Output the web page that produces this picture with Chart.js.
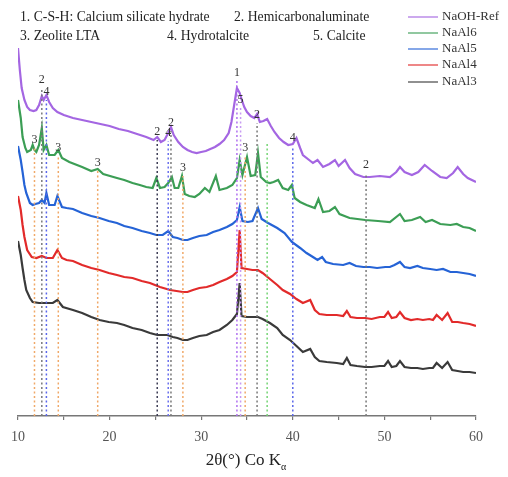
<!DOCTYPE html>
<html><head><meta charset="utf-8">
<script src="https://cdn.jsdelivr.net/npm/chart.js@4/dist/chart.umd.min.js"></script>
<style>html,body{margin:0;padding:0;background:#fff}</style>
</head><body><canvas id="c" width="508" height="477"></canvas>
<script>
// ---- data (intensity in arbitrary, offset units) ----
const tickLabels = [10, 20, 30, 40, 50, 60];
const seriesNames = ['NaOH-Ref', 'NaAl6', 'NaAl5', 'NaAl4', 'NaAl3'];

const refX = [10.0,10.2,10.4,10.7,11.0,11.3,11.7,12.0,12.3,12.6,12.8,13.1,13.4,13.8,14.3,15.0,16.0,17.0,18.0,19.0,20.0,21.0,22.0,23.0,24.0,24.8,25.2,25.6,26.0,26.4,26.7,27.0,27.5,28.0,28.5,29.0,29.5,30.0,30.5,31.0,31.5,32.0,32.5,33.0,33.3,33.6,33.9,34.2,34.4,34.7,35.0,35.4,35.8,36.1,36.4,36.8,37.2,37.6,38.0,38.5,39.0,39.5,40.0,40.4,40.8,41.1,42.2,42.7,43.3,44.0,44.6,45.0,45.7,46.2,46.8,47.7,48.4,49.5,50.6,51.3,51.7,52.2,53.0,53.7,54.4,55.2,56.1,56.8,57.5,58.0,58.6,59.1,60.0];
const refY = [368,346,328,316,309,306,305,306,311,320,316,321,314,308,304,301,298,296,294,292,290,287,285,282,279,276,279,274,276,283,289,281,274,269,266,264,263,264,265,267,269,272,276,283,294,311,328,323,317,309,304,300,298,302,294,295,297,290,284,278,274,271,272,278,268,261,253,256,249,252,256,250,256,248,242,239,239,240,239,244,249,244,241,244,251,245,239,238,243,249,242,238,234];

const al6X = [10.0,10.3,10.5,10.8,11.0,11.4,11.6,11.8,12.0,12.3,12.6,12.8,13.1,13.4,14.0,14.4,14.8,15.6,17.0,18.0,18.7,19.3,20.8,21.6,22.5,23.3,24.0,24.7,25.1,25.5,26.0,26.4,26.8,27.1,27.5,27.9,28.2,28.7,29.3,29.8,30.4,30.9,31.6,32.0,32.8,33.4,33.9,34.2,34.5,35.0,35.4,35.9,36.2,36.5,37.1,37.5,37.9,38.4,38.9,39.5,39.9,40.2,40.8,41.5,42.4,42.8,43.3,44.0,44.6,45.1,46.2,47.9,49.3,50.6,51.7,52.2,53.0,53.9,54.5,55.2,56.1,57.2,57.9,58.6,59.3,60.0];
const al6Y = [316,298,279,268,264,266,271,266,264,271,288,266,271,261,261,266,258,254,249,245,247,242,238,236,233,231,229,228,238,228,229,233,239,228,228,240,222,220,219,222,228,224,240,226,228,231,238,256,241,259,240,241,263,239,234,233,234,236,228,226,231,218,214,211,208,217,204,205,209,202,198,196,195,194,202,195,196,199,194,196,192,191,192,189,188,185];

const al5X = [10.0,10.3,10.5,10.7,10.9,11.3,11.6,11.9,12.3,12.6,12.9,13.1,13.4,14.0,14.3,14.8,15.3,16.0,17.0,18.0,18.9,19.9,20.8,21.6,22.5,23.5,24.4,25.1,25.8,26.4,26.9,27.4,28.0,28.5,29.1,29.8,30.6,31.3,32.0,32.8,33.4,33.9,34.2,34.5,35.1,35.6,36.2,36.6,37.3,38.3,39.1,39.9,40.8,41.5,42.2,42.7,43.2,43.6,44.4,45.5,46.2,46.9,47.7,48.4,49.2,50.1,50.6,51.1,51.7,52.2,52.8,53.6,54.2,55.0,55.7,56.4,57.2,57.9,58.6,59.3,60.0];
const al5Y = [270,256,244,231,223,213,211,212,213,216,213,223,211,211,220,209,208,207,203,200,198,195,193,190,188,185,183,181,181,185,179,178,176,176,178,180,181,184,186,189,192,196,209,195,194,195,208,197,193,188,183,174,168,163,159,156,159,154,152,151,153,150,149,149,148,149,149,151,154,149,148,150,148,147,146,147,144,144,143,142,140];

const al4X = [10.0,10.3,10.5,10.7,11.0,11.5,12.0,12.6,13.1,13.8,14.3,14.8,15.3,16.0,17.0,18.0,18.9,19.9,20.8,21.6,22.5,23.5,24.4,25.5,26.6,27.3,28.0,28.5,29.1,29.8,30.6,31.3,32.0,32.8,33.4,33.9,34.2,34.4,35.0,35.6,36.2,36.7,37.5,38.3,38.9,39.7,40.4,41.1,41.9,42.4,42.9,43.7,44.8,45.5,45.9,46.3,47.0,47.9,48.6,49.5,50.0,50.4,50.8,51.3,51.7,52.2,52.9,53.6,54.2,54.9,55.3,55.7,56.3,56.9,57.4,58.0,58.6,59.3,60.0];
const al4Y = [220,206,191,179,166,159,158,160,158,158,166,158,156,155,151,148,146,143,141,139,138,135,133,129,126,125,124,124,126,128,129,131,134,137,140,144,186,148,147,146,146,143,137,131,126,122,117,113,116,106,102,101,101,100,105,99,98,98,97,99,99,104,98,99,104,98,96,97,96,97,96,101,96,103,94,94,93,92,90];

const al3X = [10.0,10.3,10.5,10.7,10.9,11.3,11.6,12.3,13.1,13.8,14.3,14.9,16.0,17.0,18.0,18.9,19.9,20.8,21.6,22.5,23.5,24.4,25.2,26.3,26.9,27.4,28.0,28.5,29.1,29.8,30.6,31.3,32.0,32.8,33.4,33.9,34.2,34.4,35.0,35.6,36.2,36.7,37.5,38.3,38.9,39.7,40.4,41.1,41.9,42.4,42.9,43.7,44.8,45.5,45.9,46.3,47.0,47.9,48.6,49.5,50.0,50.4,50.8,51.3,51.7,52.2,52.9,53.6,54.2,54.9,55.3,55.7,56.3,56.9,57.4,58.0,58.6,59.3,60.0];
const al3Y = [175,161,148,136,126,118,114,113,113,113,116,109,106,103,99,96,94,93,91,88,86,83,81,81,79,78,76,76,78,80,81,84,86,91,96,102,133,100,99,99,99,97,93,88,81,76,70,64,67,59,55,54,53,52,58,51,50,49,49,50,50,55,49,50,55,49,48,48,47,48,48,53,48,54,46,45,44,44,43];

// reference peak markers: position, label, label height
const markX     = [11.8, 12.6, 13.1, 14.4, 18.7, 25.2, 26.4, 26.7, 28.0, 33.9, 34.3, 34.8, 36.1, 37.2, 40.0, 48.0];
const markLabel = ['3', '2', '4', '3', '3', '2', '4', '2', '3', '1', '5', '3', '2', '', '4', '2'];
const markTop   = [276, 336, 324, 268, 253, 284, 283, 293, 248, 343, 316, 268, 301, 273, 278, 251];

const phaseText = [
  ['1. C-S-H: Calcium silicate hydrate', '2. Hemicarbonaluminate'],
  ['3. Zeolite LTA', '4. Hydrotalcite', '5. Calcite']
];

// ---- styles ----
const seriesColors = ['#a466e2', '#3c9e55', '#2563d6', '#e22a2a', '#3a3a3a'];
const markColors = ['#f0a868', '#7a7a7a', '#5a66ea', '#f0a868', '#f0a868', '#3c3c55', '#6a70ee', '#7a7a7a', '#f0a868',
                    '#b070f0', '#c79af2', '#f0a868', '#7a7a7a', '#74d474', '#5a66ea', '#7a7a7a'];
const SERIF = '"Liberation Serif", "Times New Roman", serif';

const seriesX = [refX, al6X, al5X, al4X, al3X];
const seriesY = [refY, al6Y, al5Y, al4Y, al3Y];

const datasets = [];
seriesNames.forEach((name, i) => {
  datasets.push({
    label: name,
    data: seriesX[i].map((x, k) => ({ x: x, y: seriesY[i][k] })),
    borderColor: seriesColors[i],
    borderWidth: 2.2,
    pointRadius: 0,
    tension: 0,
    order: 2
  });
});
markX.forEach((x, i) => {
  datasets.push({
    label: 'mark' + i,
    data: [{ x: x, y: 0 }, { x: x, y: markTop[i] - (markLabel[i] ? 8 : 0) }],
    borderColor: markColors[i],
    borderWidth: 1.5,
    borderDash: [2, 2.5],
    pointRadius: 0,
    order: 1
  });
});

const overlay = {
  id: 'overlay',
  afterDraw(chart) {
    const ctx = chart.ctx, xs = chart.scales.x, ys = chart.scales.y;
    ctx.save();
    // peak labels
    ctx.font = '12px ' + SERIF;
    ctx.fillStyle = '#333';
    ctx.textAlign = 'center';
    ctx.textBaseline = 'middle';
    markX.forEach((x, i) => {
      if (!markLabel[i]) return;
      ctx.fillText(markLabel[i], xs.getPixelForValue(x), ys.getPixelForValue(markTop[i]));
    });
    // phase key text
    ctx.font = '13.7px ' + SERIF;
    ctx.fillStyle = '#222';
    ctx.textAlign = 'left';
    ctx.fillText(phaseText[0][0], 20, 17);
    ctx.fillText(phaseText[0][1], 234, 17);
    ctx.fillText(phaseText[1][0], 20, 36);
    ctx.fillText(phaseText[1][1], 167, 36);
    ctx.fillText(phaseText[1][2], 313, 36);
    // legend
    ctx.font = '13px ' + SERIF;
    const ly = [17, 33, 49, 65, 82];
    seriesNames.forEach((n, i) => {
      ctx.strokeStyle = seriesColors[i];
      ctx.lineWidth = 1.5;
      ctx.globalAlpha = 0.75;
      ctx.beginPath(); ctx.moveTo(408, ly[i]); ctx.lineTo(438, ly[i]); ctx.stroke();
      ctx.globalAlpha = 1;
      ctx.fillStyle = '#333';
      ctx.fillText(n, 442, ly[i]);
    });
    // x-axis title with subscript alpha
    ctx.fillStyle = '#222';
    const main = '2θ(°) Co K';
    const sub = 'α';
    ctx.font = '17px ' + SERIF;
    const w1 = ctx.measureText(main).width;
    ctx.font = '10px ' + SERIF;
    const w2 = ctx.measureText(sub).width;
    const cx = 246;
    const sx = cx - (w1 + w2) / 2;
    ctx.font = '17px ' + SERIF;
    ctx.fillText(main, sx, 461);
    ctx.font = '10px ' + SERIF;
    ctx.fillText(sub, sx + w1, 467);
    ctx.restore();
  }
};

new Chart(document.getElementById('c'), {
  type: 'line',
  data: { datasets: datasets },
  options: {
    responsive: false,
    devicePixelRatio: 1,
    animation: false,
    layout: { padding: { left: 18, right: 32, top: 36, bottom: 0 } },
    plugins: { legend: { display: false }, tooltip: { enabled: false } },
    scales: {
      x: {
        type: 'linear', min: 10, max: 60,
        ticks: {
          stepSize: 5,
          callback: v => tickLabels.includes(v) ? String(v) : '',
          font: { family: SERIF, size: 14 },
          color: '#555',
          padding: 9,
          maxRotation: 0,
          autoSkip: false
        },
        grid: { drawOnChartArea: false, drawTicks: true, tickLength: 4, color: '#777', lineWidth: 1.2 },
        border: { color: '#777', width: 1.5 },
        afterFit: s => { s.height = 61; }
      },
      y: { display: false, min: 0, max: 380 }
    }
  },
  plugins: [overlay]
});
</script></body></html>
